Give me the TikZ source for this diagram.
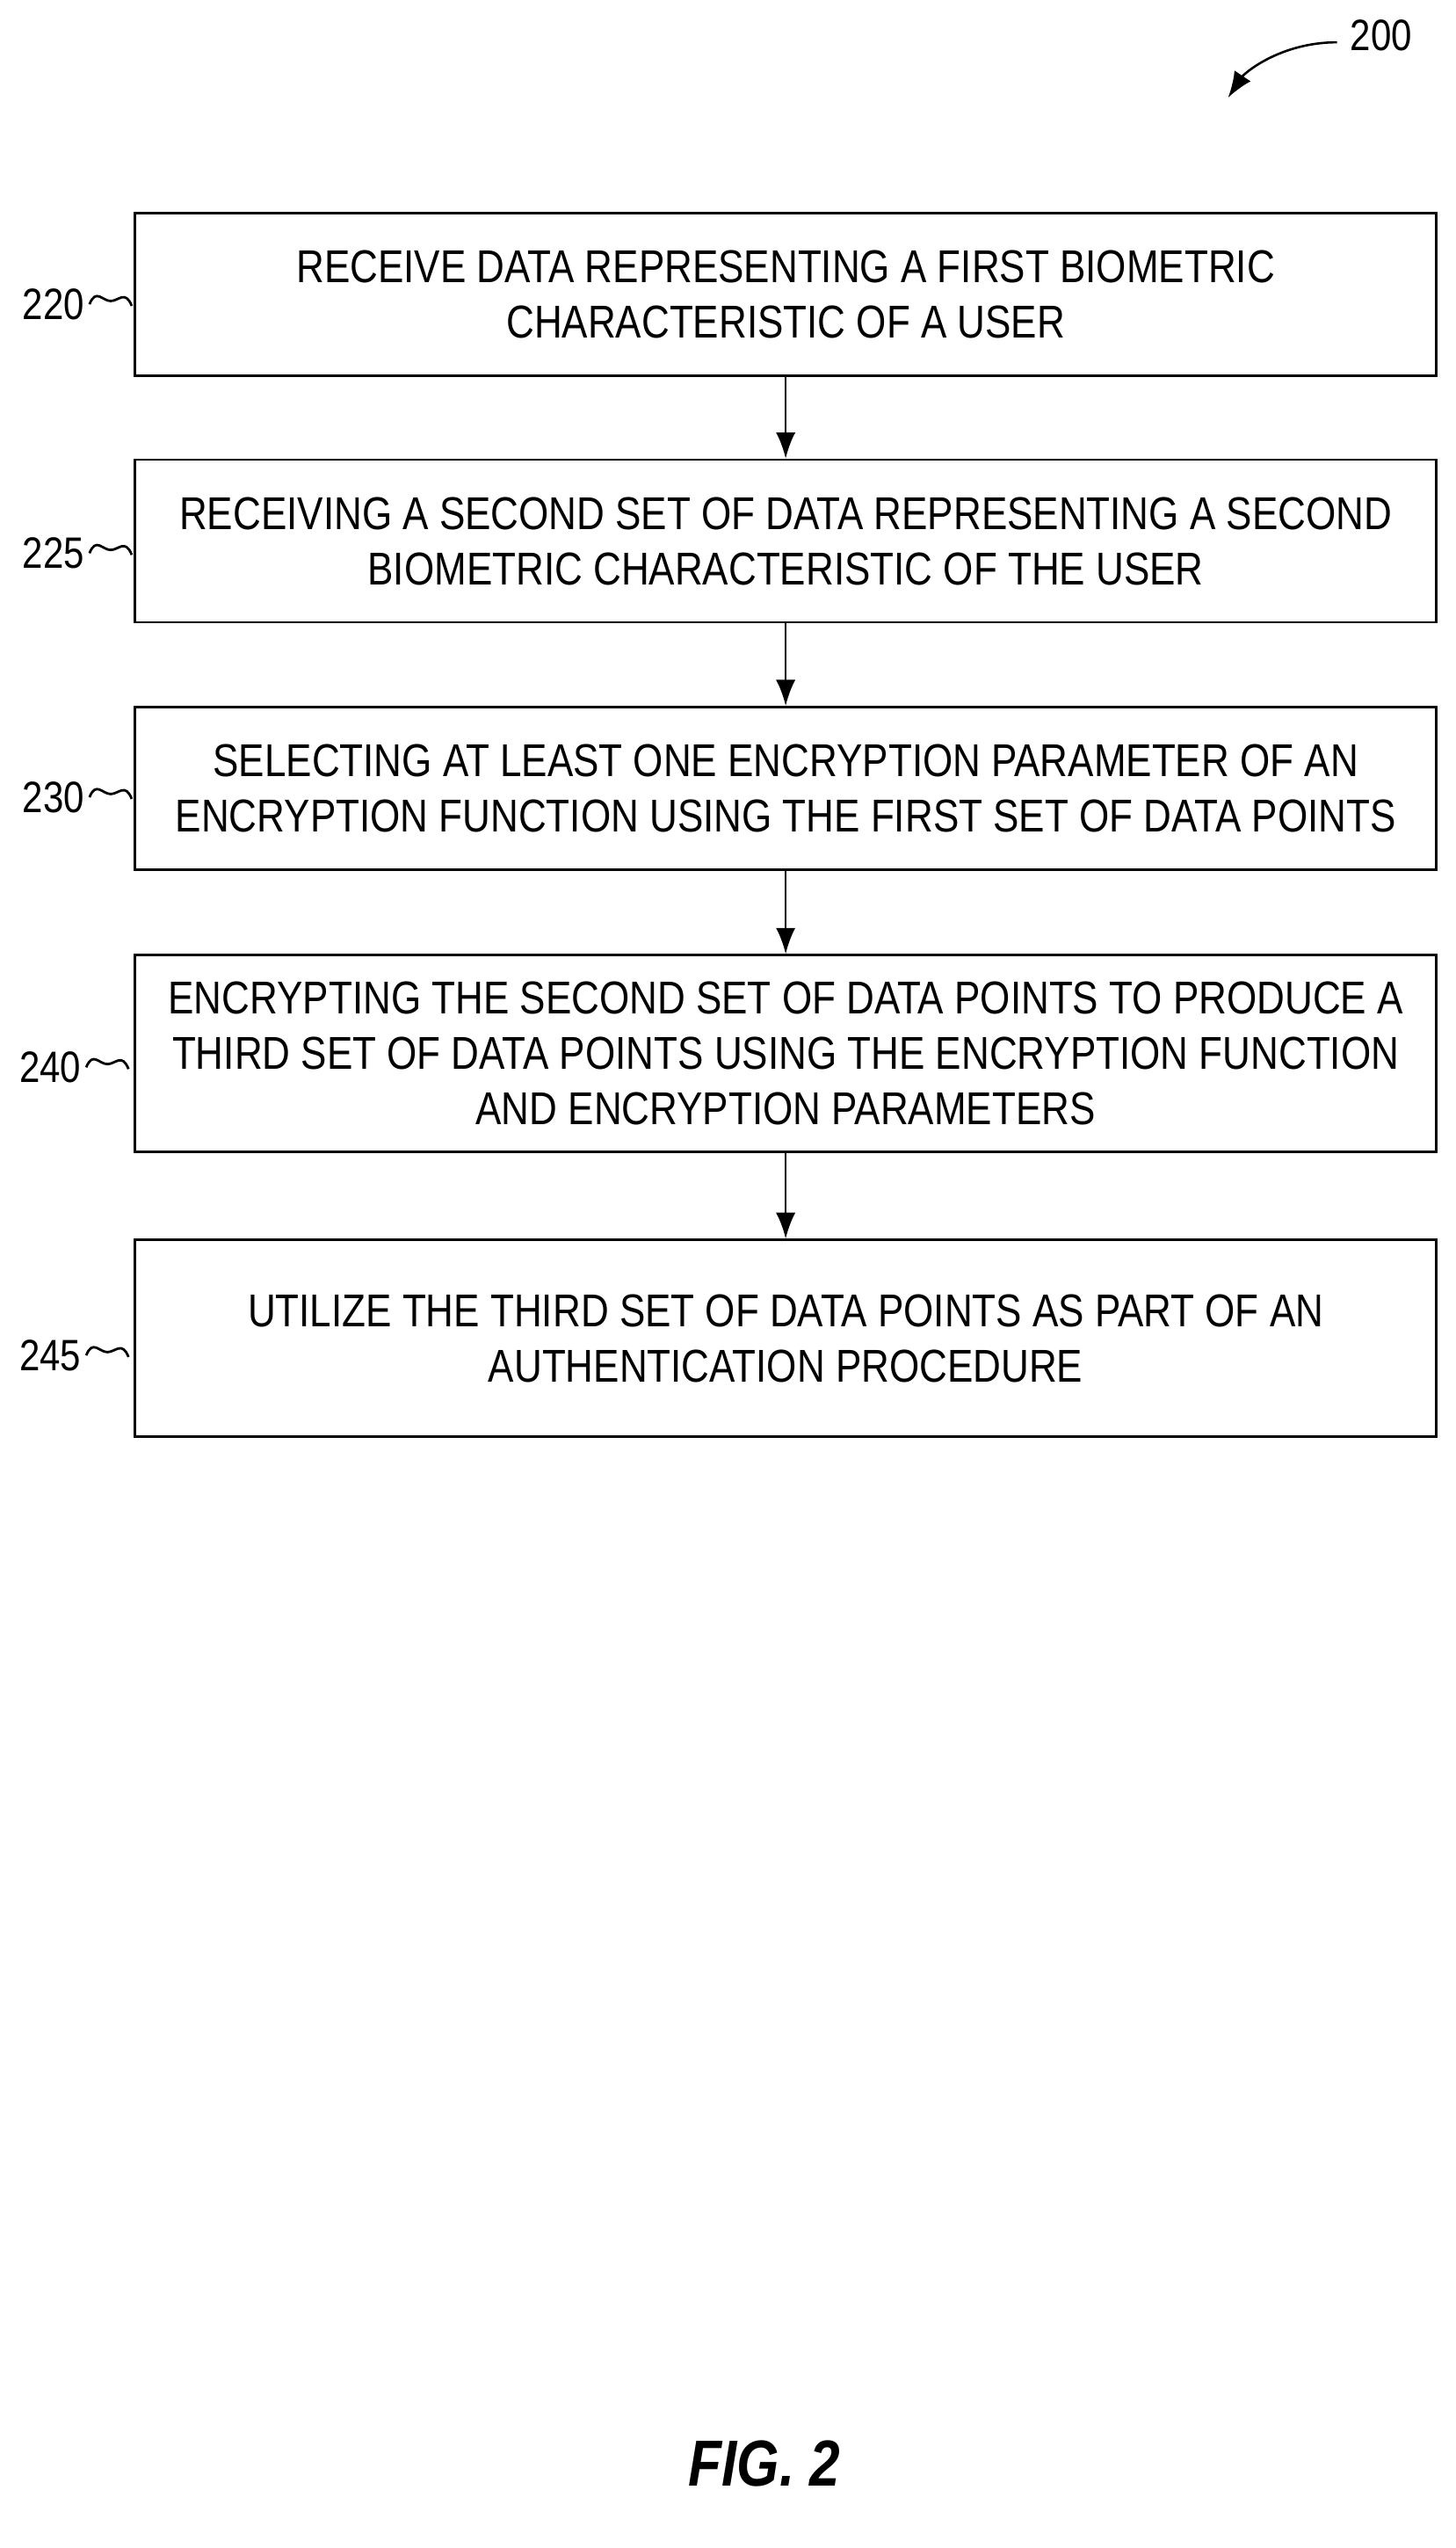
\documentclass[tikz,border=0pt]{standalone}
\usepackage{fontspec}
\setmainfont{Liberation Sans}[FakeStretch=0.84]
\usetikzlibrary{positioning,arrows.meta}
\tikzset{
  stepbox/.style={draw,line width=1.4pt,minimum width=800pt,align=center,
    font=\fontsize{28.3}{34}\selectfont,inner sep=0pt},
  tag/.style={anchor=east,font=\fontsize{27}{30}\selectfont,inner sep=0pt},
  flow/.style={-{Latex[length=16pt,width=12pt]},line width=1.4pt}
}
\newcommand{\squig}[1]{\draw[line width=1.5pt] (#1.east) ++(3pt,0)
  .. controls +(4pt,10pt) and +(-5pt,0pt) .. ++(13pt,2pt)
  .. controls +(5pt,0pt) and +(-4pt,10pt) .. ++(13pt,-3pt);}
\begin{document}
\begin{tikzpicture}[x=1pt,y=1pt]
\useasboundingbox (0,0) rectangle (895,-1566);
\node[stepbox,minimum height=100pt] (s220) at (483,-181)
  {RECEIVE DATA REPRESENTING A FIRST BIOMETRIC\\CHARACTERISTIC OF A USER};
\node[stepbox,minimum height=100pt] (s225) at (483,-332.5)
  {RECEIVING A SECOND SET OF DATA REPRESENTING A SECOND\\BIOMETRIC CHARACTERISTIC OF THE USER};
\node[stepbox,minimum height=100pt] (s230) at (483,-484.5)
  {SELECTING AT LEAST ONE ENCRYPTION PARAMETER OF AN\\ENCRYPTION FUNCTION USING THE FIRST SET OF DATA POINTS};
\node[stepbox,minimum height=121pt] (s240) at (483,-647.5)
  {ENCRYPTING THE SECOND SET OF DATA POINTS TO PRODUCE A\\THIRD SET OF DATA POINTS USING THE ENCRYPTION FUNCTION\\AND ENCRYPTION PARAMETERS};
\node[stepbox,minimum height=121pt] (s245) at (483,-822.5)
  {UTILIZE THE THIRD SET OF DATA POINTS AS PART OF AN\\AUTHENTICATION PROCEDURE};
% reference numerals
\node[tag] (l220) at (52,-187) {220}; \squig{l220}
\node[tag] (l225) at (52,-340) {225}; \squig{l225}
\node[tag] (l230) at (52,-490) {230}; \squig{l230}
\node[tag] (l240) at (50,-656) {240}; \squig{l240}
\node[tag] (l245) at (50,-833) {245}; \squig{l245}
% flow
\draw[flow] (s220) -- (s225);
\draw[flow] (s225) -- (s230);
\draw[flow] (s230) -- (s240);
\draw[flow] (s240) -- (s245);
% figure number
\node[tag,anchor=west] (n200) at (830,-22) {200};
\coordinate (t200) at (755,-60);
\draw[-{Latex[length=16pt,width=12pt]},line width=1.4pt] (n200.west) ++(-8pt,-4pt)
  .. controls +(-35pt,0pt) and +(10pt,15pt) .. (t200);
\node[font=\fontsize{40}{42}\selectfont\itshape\bfseries] (fig) at (470,-1514) {FIG. 2};
\end{tikzpicture}
\end{document}
